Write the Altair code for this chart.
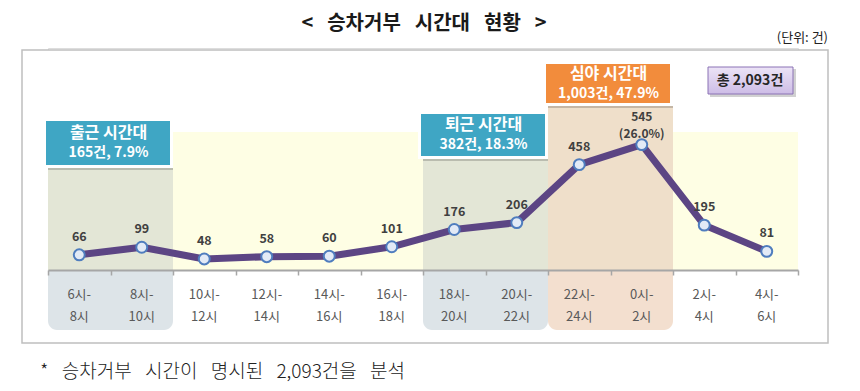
import altair as alt
import pandas as pd

# ---------------- data ----------------
slot_line1 = ["6시-", "8시-", "10시-", "12시-", "14시-", "16시-", "18시-", "20시-", "22시-", "0시-", "2시-", "4시-"]
slot_line2 = ["8시", "10시", "12시", "14시", "16시", "18시", "20시", "22시", "24시", "2시", "4시", "6시"]
counts = [66, 99, 48, 58, 60, 101, 176, 206, 458, 545, 195, 81]
peak_share = ["", "", "", "", "", "", "", "", "", "(26.0%)", "", ""]

zone_start = [0, 2, 6, 8, 10]
zone_end = [1, 5, 7, 9, 11]
zone_kind = ["commute", "day", "commute", "night", "day"]

box_titles = ["출근 시간대", "퇴근 시간대", "심야 시간대"]
box_details = ["165건, 7.9%", "382건, 18.3%", "1,003건, 47.9%"]
box_start = [0, 6, 8]
box_end = [1, 7, 9]
box_kind = ["commute", "commute", "night"]

total_text = "총 2,093건"
title_text = "< 승차거부 시간대 현황 >"
unit_text = "(단위: 건)"
note_text = "* 승차거부 시간이 명시된 2,093건을 분석"

# ---------------- layout / style ----------------
FONT = "Noto Sans CJK KR"
W, H = 750, 222
BOX_TOP = [73, 66, 16]
BOX_BOT = [117, 108, 55]
BAND_TOP = {"commute": 84, "day": 84, "night": 58}
BAND_COL = {"commute": "#E3E6D6", "day": "#FEFEE4", "night": "#EFDFCA"}
LAB_COL = {"commute": "#DDE4E8", "night": "#F3DFCF"}
BOX_COL = {"commute": "#3FA6C4", "night": "#F28C3C"}


def widen(s, gap):
    # wide word gaps, as in the reference typeface
    return s.replace(" ", gap)


n = len(counts)
df = pd.DataFrame({
    "i": list(range(n)),
    "v": counts,
    "l1": slot_line1,
    "l2": slot_line2,
    "share": peak_share,
})
zones = pd.DataFrame({"s": zone_start, "e": zone_end, "kind": zone_kind})
zones["x0"] = zones["s"] - 0.5
zones["x1"] = zones["e"] + 0.5

boxes = pd.DataFrame({"t": box_titles, "d": box_details, "s": box_start, "e": box_end, "kind": box_kind})
boxes["x0"] = boxes["s"] - 0.5
boxes["x1"] = boxes["e"] + 0.5
boxes["xc"] = (boxes["s"] + boxes["e"]) / 2

xscale = alt.Scale(domain=[-0.5, n - 0.5], nice=False, zero=False)
xaxis = alt.Axis(values=[k - 0.5 for k in range(n + 1)], labels=False, title=None, grid=False,
                 ticks=True, tickSize=5, tickColor="#A6A6A6", tickWidth=1.5,
                 domainColor="#A6A6A6", domainWidth=2, zindex=1)
yscale = alt.Scale(domain=[0, 965], nice=False, zero=True)


def X(field):
    return alt.X(field, scale=xscale, axis=xaxis)


layers = []

# outer frame
frame = alt.Chart(pd.DataFrame({"a": [0]})).mark_rect(
    fill="white", stroke="#BFBFBF", strokeWidth=1.5
).encode(x=alt.value(-26), x2=alt.value(780), y=alt.value(2), y2=alt.value(295))
layers.append(frame)

# background bands
for kind in ["day", "commute", "night"]:
    sub = zones[zones["kind"] == kind]
    layers.append(
        alt.Chart(sub).mark_rect(fill=BAND_COL[kind]).encode(
            x=X("x0:Q"), x2="x1:Q", y=alt.value(BAND_TOP[kind]), y2=alt.value(H)
        )
    )

# label backgrounds below axis
for kind in ["commute", "night"]:
    sub = zones[zones["kind"] == kind]
    layers.append(
        alt.Chart(sub).mark_rect(fill=LAB_COL[kind], cornerRadiusBottomLeft=9,
                                 cornerRadiusBottomRight=9).encode(
            x=X("x0:Q"), x2="x1:Q", y=alt.value(H), y2=alt.value(282)
        )
    )

base = alt.Chart(df)
line = base.mark_line(color="#5C4584", strokeWidth=7, strokeCap="round", strokeJoin="round").encode(
    x=X("i:Q"), y=alt.Y("v:Q", scale=yscale, axis=None)
)
pts = base.mark_point(shape="circle", fill="#E2EAF6", stroke="#4F7DBE", strokeWidth=2,
                      size=120, opacity=1, fillOpacity=1).encode(
    x=X("i:Q"), y=alt.Y("v:Q", scale=yscale, axis=None)
)
vlab = base.transform_filter("datum.share == ''").mark_text(
    dy=-18, fontSize=12.5, fontWeight="bold", color="#404040", font=FONT
).encode(x=X("i:Q"), y=alt.Y("v:Q", scale=yscale, axis=None), text="v:Q")
peak_v = base.transform_filter("datum.share != ''").mark_text(
    dy=-28, fontSize=12, fontWeight="bold", color="#404040", font=FONT
).encode(x=X("i:Q"), y=alt.Y("v:Q", scale=yscale, axis=None), text="v:Q")
peak_s = base.transform_filter("datum.share != ''").mark_text(
    dy=-11, fontSize=12, fontWeight="bold", color="#404040", font=FONT
).encode(x=X("i:Q"), y=alt.Y("v:Q", scale=yscale, axis=None), text="share:N")
cat1 = base.mark_text(fontSize=13, color="#595959", font=FONT).encode(
    x=X("i:Q"), y=alt.value(247), text="l1:N")
cat2 = base.mark_text(fontSize=13, color="#595959", font=FONT).encode(
    x=X("i:Q"), y=alt.value(269), text="l2:N")
layers += [line, pts, vlab, peak_v, peak_s, cat1, cat2]

# annotation boxes
for k in range(len(boxes)):
    sub = boxes.iloc[[k]]
    top, bot = BOX_TOP[k], BOX_BOT[k]
    bc = alt.Chart(sub)
    layers.append(bc.mark_rect(fill="#000000", opacity=0.18, xOffset=0, x2Offset=0).encode(
        x=X("x0:Q"), x2="x1:Q", y=alt.value(top - 1), y2=alt.value(bot + 5)))
    layers.append(bc.mark_rect(fill="white", xOffset=-5, x2Offset=0).encode(
        x=X("x0:Q"), x2="x1:Q", y=alt.value(top - 3), y2=alt.value(bot + 3)))
    layers.append(bc.mark_rect(fill=BOX_COL[box_kind[k]], xOffset=-2, x2Offset=-3).encode(
        x=X("x0:Q"), x2="x1:Q", y=alt.value(top), y2=alt.value(bot)))
    mid = (top + bot) / 2
    layers.append(bc.mark_text(fontSize=16, fontWeight="bold", color="white", font=FONT, dx=-2).encode(
        x=X("xc:Q"), y=alt.value(mid - 10), text="t:N"))
    layers.append(bc.mark_text(fontSize=14, fontWeight="bold", color="white", font=FONT, dx=-2).encode(
        x=X("xc:Q"), y=alt.value(mid + 10), text="d:N"))

one = alt.Chart(pd.DataFrame({"a": [0]}))
# total box
layers.append(one.mark_rect(fill="#000000", opacity=0.18).encode(
    x=alt.value(662), x2=alt.value(748), y=alt.value(21), y2=alt.value(49)))
layers.append(one.mark_rect(
    fill=alt.Gradient(gradient="linear", stops=[alt.GradientStop(color="#ECE4F6", offset=0),
                                                 alt.GradientStop(color="#CDBCE6", offset=1)],
                      x1=0, x2=0, y1=0, y2=1),
    stroke="#8B73B5", strokeWidth=1).encode(
    x=alt.value(660), x2=alt.value(745), y=alt.value(19), y2=alt.value(46)))
layers.append(one.mark_text(fontSize=14, fontWeight="bold", color="#262626", font=FONT).encode(
    x=alt.value(702), y=alt.value(33), text=alt.value(total_text)))

# titles and notes
layers.append(one.mark_text(fontSize=20, fontWeight="bold", color="#1a1a1a", font=FONT).encode(
    x=alt.value(376), y=alt.value(-24), text=alt.value(widen(title_text, "\u2002\u2009"))))
layers.append(one.mark_text(fontSize=13, color="#222222", font=FONT, align="right").encode(
    x=alt.value(780), y=alt.value(-10), text=alt.value(unit_text)))
layers.append(one.mark_text(fontSize=19, color="#222222", font=FONT, align="left", fontWeight=300).encode(
    x=alt.value(-8), y=alt.value(324), text=alt.value(widen(note_text, "\u2002\u2009"))))

chart = alt.layer(*layers).properties(
    width=W, height=H,
    padding={"left": 40, "top": 40, "right": 54, "bottom": 113},
    autosize=alt.AutoSizeParams(type="none"),
).configure_view(stroke=None).configure(background="white")

chart.save("out.html", embed_options={"renderer": "svg", "actions": False})
